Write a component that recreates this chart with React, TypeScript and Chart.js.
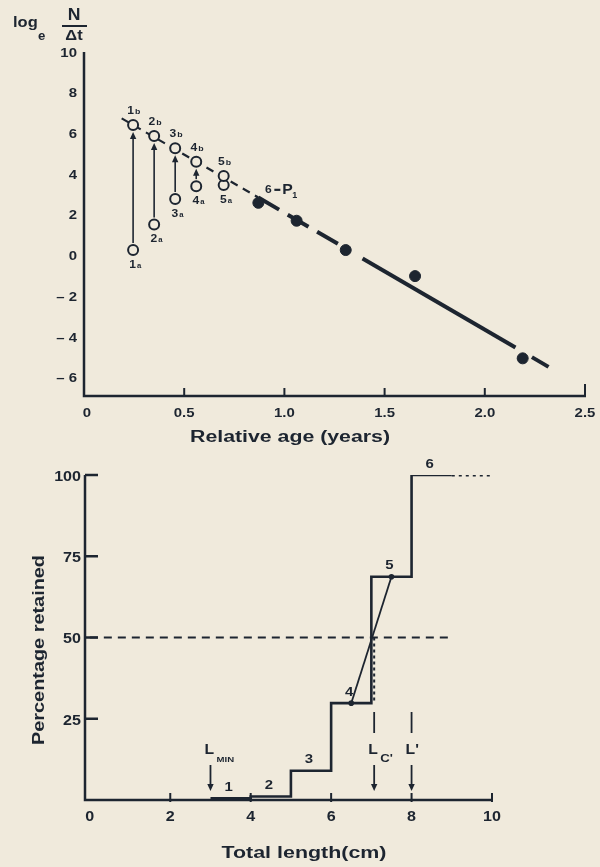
import React, { useEffect, useRef } from "react";
import { Chart, registerables } from "chart.js";

Chart.register(...registerables);

const INK = "#1d2530";
const PAPER = "#f0eadc";
const FONT = '"Liberation Sans", Arial, sans-serif';

// ---------------- Top chart: log_e(N/Δt) against relative age ----------------
const ageTickValues = [0, 0.5, 1.0, 1.5, 2.0, 2.5];
const ageTickLabels = ["0", "0.5", "1.0", "1.5", "2.0", "2.5"];
const logTickValues = [10, 8, 6, 4, 2, 0, -2, -4, -6];
const logTickLabels = ["10", "8", "6", "4", "2", "0", "– 2", "– 4", "– 6"];

// incompletely recruited groups: corrected ("b") and observed ("a") values
const pairLabels = ["1", "2", "3", "4", "5"];
const pairAges = [0.245, 0.35, 0.455, 0.56, 0.697];
const pairLogB = [6.46, 5.92, 5.32, 4.66, 3.96];
const pairLogA = [0.32, 1.58, 2.83, 3.46, 3.51];

// fully recruited groups (filled points)
const fullAges = [0.87, 1.061, 1.306, 1.652, 2.189];
const fullLogs = [2.64, 1.76, 0.32, -0.96, -5.0];

// regression line pieces (thin dashed, thick dashed, solid, tail)
const fitThinAges = [0.188, 0.87];
const fitThinLogs = [6.79, 2.9];
const fitDashAges = [0.87, 1.306];
const fitDashLogs = [2.9, 0.4];
const fitSolidAges = [1.39, 2.153];
const fitSolidLogs = [-0.1, -4.47];
const fitTailAges = [2.235, 2.318];
const fitTailLogs = [-4.94, -5.42];

// ---------------- Bottom chart: percentage retained against total length ----------------
const lengthTickValues = [0, 2, 4, 6, 8, 10];
const lengthTickLabels = ["0", "2", "4", "6", "8", "10"];
const retainedTickValues = [25, 50, 75, 100];
const retainedTickLabels = ["25", "50", "75", "100"];

const stepLengths = [3, 4, 5, 6, 7, 8, 9];
const stepRetained = [0.5, 1.1, 9, 29.8, 68.7, 100, 100];
const stepLabels = ["1", "2", "3", "4", "5", "6"];

const tailLengths = [9, 10];
const tailRetained = [100, 100];
const halfLengths = [0, 9];
const halfRetained = [50, 50];
const ogiveLengths = [6.5, 7.5];
const ogiveRetained = [29.8, 68.7];
const lcDropLengths = [7.07, 7.07];
const lcDropRetained = [50, 30.6];

const markerLengths = [3, 7.07, 8];
const markerMain = ["L", "L", "L'"];
const markerSub = ["MIN", "C'", ""];
const markerUpperShaft = [false, true, true];

const pts = (xs: number[], ys: number[]) => xs.map((x, i) => ({ x, y: ys[i] }));

function txt(ctx: any, s: string, x: number, y: number, size: number, o: any = {}) {
  ctx.save();
  ctx.translate(x, y);
  if (o.rotate) ctx.rotate(o.rotate);
  ctx.font = `${o.weight || "bold"} ${size}px ${FONT}`;
  let sx = o.sx || 1;
  if (o.width) sx = o.width / ctx.measureText(s).width;
  ctx.scale(sx, 1);
  ctx.textAlign = o.align || "center";
  ctx.textBaseline = o.baseline || "middle";
  ctx.fillStyle = INK;
  ctx.fillText(s, 0, 0);
  ctx.restore();
}

function seg(ctx: any, x0: number, y0: number, x1: number, y1: number, w: number) {
  ctx.save();
  ctx.strokeStyle = INK;
  ctx.lineWidth = w;
  ctx.beginPath();
  ctx.moveTo(x0, y0);
  ctx.lineTo(x1, y1);
  ctx.stroke();
  ctx.restore();
}

function head(ctx: any, x: number, tipY: number, dir: number) {
  ctx.save();
  ctx.fillStyle = INK;
  ctx.beginPath();
  ctx.moveTo(x, tipY);
  ctx.lineTo(x - 3.2, tipY - dir * 7);
  ctx.lineTo(x + 3.2, tipY - dir * 7);
  ctx.closePath();
  ctx.fill();
  ctx.restore();
}

const topDecor = {
  id: "topDecor",
  beforeDatasetsDraw(chart: any) {
    const { ctx, chartArea: a, scales } = chart;
    const x = scales.x, y = scales.y;
    ctx.save();
    ctx.strokeStyle = INK;
    ctx.lineWidth = 2.5;
    ctx.beginPath();
    ctx.moveTo(a.left, a.top);
    ctx.lineTo(a.left, a.bottom);
    ctx.lineTo(a.right + 1, a.bottom);
    ctx.stroke();
    ctx.restore();
    ageTickValues.forEach((v, i) => {
      const px = x.getPixelForValue(v);
      if (v > 0) seg(ctx, px, a.bottom, px, a.bottom - (i === ageTickValues.length - 1 ? 12 : 8), 2);
      txt(ctx, ageTickLabels[i], px + (v === 0 ? 3 : 0), a.bottom + 17, 13, { sx: 1.15 });
    });
    logTickValues.forEach((v, i) => {
      txt(ctx, logTickLabels[i], a.left - 7, y.getPixelForValue(v), 13, { align: "right", sx: 1.15 });
    });
    // axis titles
    txt(ctx, "Relative age (years)", 290, 438, 16, { width: 200 });
    txt(ctx, "log", 13, 27, 15, { align: "left", baseline: "alphabetic", sx: 1.1 });
    txt(ctx, "e", 38, 40, 12, { align: "left", baseline: "alphabetic", sx: 1.1 });
    txt(ctx, "N", 74, 20, 16, { baseline: "alphabetic", sx: 1.1 });
    seg(ctx, 62, 26, 87, 26, 2);
    txt(ctx, "Δt", 74, 40, 15, { baseline: "alphabetic", sx: 1.1 });
  },
  afterDatasetsDraw(chart: any) {
    const { ctx, scales } = chart;
    const x = scales.x, y = scales.y;
    pairAges.forEach((age, i) => {
      const px = x.getPixelForValue(age);
      const pb = y.getPixelForValue(pairLogB[i]);
      const pa = y.getPixelForValue(pairLogA[i]);
      if (pa - pb > 18) {
        const y0 = pa - 7, y1 = pb + 7;
        seg(ctx, px, y0, px, y1 + 5, 1.6);
        head(ctx, px, y1, -1);
      }
      // b label
      txt(ctx, pairLabels[i], px + 1, pb - 14, 11, { align: "right", sx: 1.1 });
      txt(ctx, "b", px + 2, pb - 13, 8, { align: "left", sx: 1.1 });
      // a label
      txt(ctx, pairLabels[i], px + 3, pa + 15, 11, { align: "right", sx: 1.1 });
      txt(ctx, "a", px + 4, pa + 16, 7, { align: "left", sx: 1.1 });
    });
    const p6x = x.getPixelForValue(fullAges[0]);
    const p6y = y.getPixelForValue(fullLogs[0]);
    txt(ctx, "6", p6x + 10, p6y - 13, 11, { sx: 1.1 });
    seg(ctx, p6x + 16, p6y - 13, p6x + 22, p6y - 13, 2.2);
    txt(ctx, "P", p6x + 24, p6y - 9, 15, { align: "left", baseline: "alphabetic", sx: 1.05 });
    txt(ctx, "1", p6x + 34, p6y - 5, 9, { align: "left", baseline: "alphabetic" });
  },
};

const bottomDecor = {
  id: "bottomDecor",
  beforeDatasetsDraw(chart: any) {
    const { ctx, chartArea: a, scales } = chart;
    const x = scales.x, y = scales.y;
    ctx.save();
    ctx.strokeStyle = INK;
    ctx.lineWidth = 2.5;
    ctx.beginPath();
    ctx.moveTo(a.left, a.top);
    ctx.lineTo(a.left, a.bottom);
    ctx.lineTo(a.right + 1, a.bottom);
    ctx.stroke();
    ctx.restore();
    retainedTickValues.forEach((v, i) => {
      const py = y.getPixelForValue(v);
      seg(ctx, a.left, py, a.left + 13, py, 2.5);
      txt(ctx, retainedTickLabels[i], a.left - 4, py + 2, 14, { align: "right", sx: 1.15 });
    });
    lengthTickValues.forEach((v, i) => {
      const px = x.getPixelForValue(v);
      if (v > 0) seg(ctx, px, a.bottom + 2, px, a.bottom - 7, 2);
      txt(ctx, lengthTickLabels[i], px, a.bottom + 17, 14, { sx: 1.15 });
    });
    txt(ctx, "Total length(cm)", 304, 403, 17, { width: 165 });
    txt(ctx, "Percentage retained", 40, 200, 16, { width: 190, rotate: -Math.PI / 2 });
  },
  afterDatasetsDraw(chart: any) {
    const { ctx, scales } = chart;
    const x = scales.x, y = scales.y;
    for (let i = 0; i < stepLabels.length; i++) {
      const mx = x.getPixelForValue((stepLengths[i] + stepLengths[i + 1]) / 2);
      const my = y.getPixelForValue(stepRetained[i]);
      txt(ctx, stepLabels[i], mx - 2, my - 11, 13, { sx: 1.15 });
    }
    markerLengths.forEach((len, i) => {
      const px = x.getPixelForValue(len);
      if (markerUpperShaft[i]) seg(ctx, px, 262, px, 283, 1.8);
      txt(ctx, markerMain[i], px - 6, 304, 15, { align: "left", baseline: "alphabetic", sx: 1.05 });
      if (markerSub[i]) {
        const subSize = markerSub[i] === "MIN" ? 8 : 11;
        txt(ctx, markerSub[i], px + 6, 312, subSize, { align: "left", baseline: "alphabetic", sx: 1.2 });
      }
      seg(ctx, px, 315, px, 334, 1.8);
      head(ctx, px, 341, 1);
    });
  },
};

function topConfig(): any {
  return {
    type: "scatter",
    data: {
      datasets: [
        {
          data: pts(fullAges, fullLogs),
          pointRadius: 5.5,
          pointBackgroundColor: INK,
          pointBorderColor: INK,
          pointBorderWidth: 1,
        },
        {
          data: pts(pairAges, pairLogB),
          pointRadius: 5,
          pointBackgroundColor: PAPER,
          pointBorderColor: INK,
          pointBorderWidth: 2,
        },
        {
          data: pts(pairAges, pairLogA),
          pointRadius: 5,
          pointBackgroundColor: PAPER,
          pointBorderColor: INK,
          pointBorderWidth: 2,
        },
        { data: pts(fitThinAges, fitThinLogs), showLine: true, pointRadius: 0, borderColor: INK, borderWidth: 2.2, borderDash: [8, 6] },
        { data: pts(fitDashAges, fitDashLogs), showLine: true, pointRadius: 0, borderColor: INK, borderWidth: 4, borderDash: [24, 10] },
        { data: pts(fitSolidAges, fitSolidLogs), showLine: true, pointRadius: 0, borderColor: INK, borderWidth: 4 },
        { data: pts(fitTailAges, fitTailLogs), showLine: true, pointRadius: 0, borderColor: INK, borderWidth: 4 },
      ],
    },
    options: {
      animation: false,
      responsive: false,
      events: [],
      layout: { padding: { left: 84, right: 15, top: 52, bottom: 54 } },
      plugins: { legend: { display: false }, tooltip: { enabled: false } },
      scales: {
        x: { type: "linear", min: 0, max: 2.5, display: false },
        y: { type: "linear", min: -6.85, max: 10.05, display: false },
      },
    },
    plugins: [topDecor],
  };
}

function bottomConfig(): any {
  return {
    type: "scatter",
    data: {
      datasets: [
        {
          data: pts(ogiveLengths, ogiveRetained),
          showLine: true,
          borderColor: INK,
          borderWidth: 1.8,
          pointRadius: 2.8,
          pointBackgroundColor: INK,
          pointBorderWidth: 0,
        },
        { data: pts(stepLengths, stepRetained), showLine: true, stepped: true, pointRadius: 0, borderColor: INK, borderWidth: 2.6 },
        { data: pts(tailLengths, tailRetained), showLine: true, pointRadius: 0, borderColor: INK, borderWidth: 3, borderDash: [3, 4] },
        { data: pts(halfLengths, halfRetained), showLine: true, pointRadius: 0, borderColor: INK, borderWidth: 2, borderDash: [8, 6] },
        { data: pts(lcDropLengths, lcDropRetained), showLine: true, pointRadius: 0, borderColor: INK, borderWidth: 2, borderDash: [3, 3] },
      ],
    },
    options: {
      animation: false,
      responsive: false,
      events: [],
      layout: { padding: { left: 85, right: 108, top: 25, bottom: 67 } },
      plugins: { legend: { display: false }, tooltip: { enabled: false } },
      scales: {
        x: { type: "linear", min: -0.12, max: 10, display: false },
        y: { type: "linear", min: 0, max: 100, display: false },
      },
    },
    plugins: [bottomDecor],
  };
}

function ChartCanvas({ top, width, height, build }: any) {
  const ref = useRef<HTMLCanvasElement>(null);
  useEffect(() => {
    const chart = new Chart(ref.current as HTMLCanvasElement, build());
    return () => chart.destroy();
  }, []);
  return (
    <canvas
      ref={ref}
      width={width}
      height={height}
      style={{ position: "absolute", left: 0, top, width, height, display: "block" }}
    />
  );
}

export default function App() {
  return (
    <div style={{ position: "absolute", left: 0, top: 0, width: 600, height: 867, background: PAPER, overflow: "hidden" }}>
      <ChartCanvas top={0} width={600} height={450} build={topConfig} />
      <ChartCanvas top={450} width={600} height={417} build={bottomConfig} />
    </div>
  );
}
